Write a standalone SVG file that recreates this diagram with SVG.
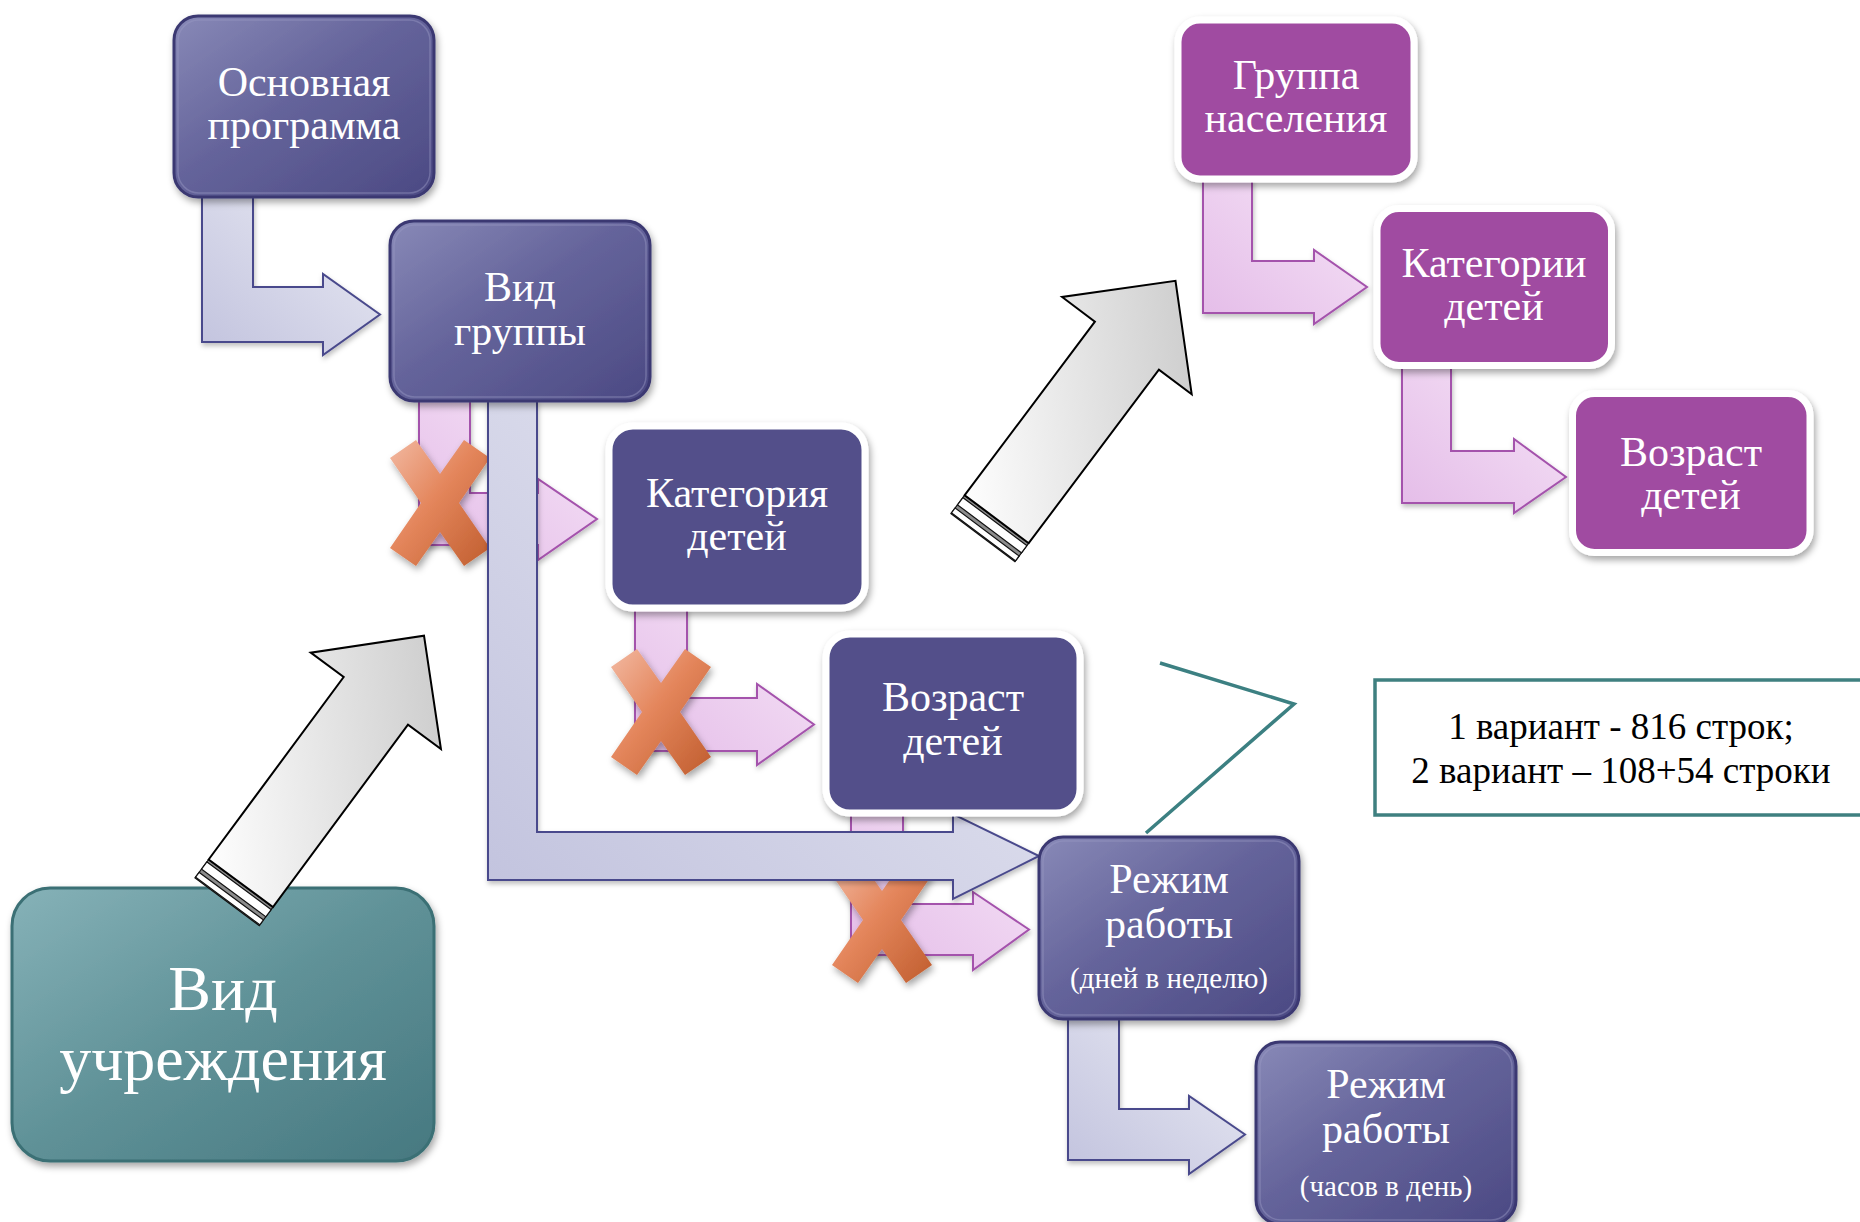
<svg xmlns="http://www.w3.org/2000/svg" width="1860" height="1222" viewBox="0 0 1860 1222">
<defs>
<style>
.t{font-family:"Liberation Serif","Times New Roman",serif;fill:#fff;text-anchor:middle}
.big{font-size:42px}
.small{font-size:29px}
.huge{font-size:64px}
.note{font-family:"Liberation Serif","Times New Roman",serif;font-size:37px;fill:#000;text-anchor:middle}
.lav{fill:url(#gLav);stroke:#4a4a8c;stroke-width:2;filter:url(#shs)}
.pink{fill:url(#gPink);stroke:#a452ac;stroke-width:2;filter:url(#shs)}
.xm{fill:url(#gX);filter:url(#sh)}
.dark{fill:url(#gDark);stroke:#3b3972;stroke-width:3;filter:url(#sh)}
.inner{fill:none;stroke:#9a9ac4;stroke-opacity:0.45;stroke-width:1.5}
.flat{fill:#52508a;stroke:#fff;stroke-width:7;filter:url(#sh)}
.mag{fill:#a04ca1;stroke:#fff;stroke-width:7;filter:url(#sh)}
.teal{fill:url(#gTeal);stroke:#3b6f74;stroke-width:3;filter:url(#sh)}
.gray{fill:url(#gGray);stroke:#000;stroke-width:2;stroke-linejoin:miter}
.cap{stroke:#111;stroke-width:1.2}
</style>
<linearGradient id="gDark" x1="0" y1="0" x2="1" y2="1">
<stop offset="0" stop-color="#8889b7"/>
<stop offset="0.45" stop-color="#65649b"/>
<stop offset="1" stop-color="#4b4983"/>
</linearGradient>
<linearGradient id="gTeal" x1="0" y1="0" x2="1" y2="1">
<stop offset="0" stop-color="#86b2b8"/>
<stop offset="0.5" stop-color="#5f9197"/>
<stop offset="1" stop-color="#467880"/>
</linearGradient>
<linearGradient id="gLav" x1="0" y1="1" x2="1" y2="0">
<stop offset="0" stop-color="#c2c3de"/>
<stop offset="1" stop-color="#eaebf4"/>
</linearGradient>
<linearGradient id="gPink" x1="0" y1="1" x2="1" y2="0">
<stop offset="0" stop-color="#e4bce8"/>
<stop offset="1" stop-color="#f6e4f7"/>
</linearGradient>
<linearGradient id="gX" x1="0" y1="0" x2="1" y2="1">
<stop offset="0" stop-color="#f2b9a2"/>
<stop offset="0.45" stop-color="#e4865c"/>
<stop offset="1" stop-color="#c05d2e"/>
</linearGradient>
<linearGradient id="gGray" x1="0" y1="0.2" x2="1" y2="0.8">
<stop offset="0" stop-color="#ffffff"/>
<stop offset="1" stop-color="#c9c9c9"/>
</linearGradient>
<filter id="sh" x="-20%" y="-20%" width="140%" height="150%">
<feDropShadow dx="2" dy="4" stdDeviation="3.5" flood-color="#000" flood-opacity="0.35"/>
</filter>
<filter id="shs" x="-10%" y="-10%" width="130%" height="130%">
<feDropShadow dx="1" dy="3" stdDeviation="2.5" flood-color="#000" flood-opacity="0.25"/>
</filter>
<path id="xshape" d="M-24,-63 L0,-29 L24,-63 L50,-45 L19,0 L50,45 L24,63 L0,29 L-24,63 L-50,45 L-19,0 L-50,-45 Z"/>
</defs>
<rect width="1860" height="1222" fill="#fff"/>

<g id="connectors">
<path id="c-osn-vid" class="lav" d="M202,195 H253 V287 H323 V274 L380,314.5 L323,355 V342 H202 Z"/>
<path id="c-rezh1-rezh2" class="lav" d="M1068,1015 H1119 V1109 H1189 V1096 L1245,1134.5 L1189,1174 V1160 H1068 Z"/>
<path id="c-vid-kat" class="pink" d="M419,401 H470 V493 H538 V479 L597,519 L538,560 V545 H419 Z"/>
<path id="c-kat-voz" class="pink" d="M635,609 H687 V698 H757 V684 L814,724.5 L757,765 V751 H635 Z"/>
<path id="c-voz-rezh" class="pink" d="M851,812 H903 V904 H973 V892 L1029,929.5 L973,970 V955 H851 Z"/>
<path id="c-grp-kat2" class="pink" d="M1203,180 H1252 V261 H1314 V250 L1367,287 L1314,324 V313 H1203 Z"/>
<path id="c-kat2-voz2" class="pink" d="M1402,368 H1451 V451 H1514 V439 L1566,477 L1514,513 V503 H1402 Z"/>
<g id="crosses">
<use href="#xshape" class="xm" transform="translate(440,503)"/>
<use href="#xshape" class="xm" transform="translate(661,712)"/>
<use href="#xshape" class="xm" transform="translate(882,920)"/>
</g>
<path id="c-vid-rezh" class="lav" d="M488,401 H537 V832 H953 V814 L1039,856 L953,899 V880 H488 Z"/>
</g>

<g id="node-osn">
<rect class="dark" x="174" y="16" width="260" height="181" rx="24"/>
<rect class="inner" x="178" y="20" width="252" height="173" rx="21"/>
<text class="t big" x="304" y="96">Основная</text>
<text class="t big" x="304" y="139">программа</text>
</g>
<g id="node-vid-gruppy">
<rect class="dark" x="390" y="221" width="260" height="180" rx="24"/>
<rect class="inner" x="394" y="225" width="252" height="172" rx="21"/>
<text class="t big" x="520" y="301">Вид</text>
<text class="t big" x="520" y="345">группы</text>
</g>
<g id="node-kat">
<rect class="flat" x="609" y="426" width="256" height="182" rx="24"/>
<text class="t big" x="737" y="507">Категория</text>
<text class="t big" x="737" y="550">детей</text>
</g>
<g id="node-voz">
<rect class="flat" x="826" y="634" width="254" height="179" rx="24"/>
<text class="t big" x="953" y="711">Возраст</text>
<text class="t big" x="953" y="755">детей</text>
</g>
<g id="node-rezh-dni">
<rect class="dark" x="1039" y="837" width="260" height="182" rx="24"/>
<rect class="inner" x="1043" y="841" width="252" height="174" rx="21"/>
<text class="t big" x="1169" y="893">Режим</text>
<text class="t big" x="1169" y="938">работы</text>
<text class="t small" x="1169" y="988">(дней в неделю)</text>
</g>
<g id="node-rezh-chasy">
<rect class="dark" x="1256" y="1042" width="260" height="182" rx="24"/>
<rect class="inner" x="1260" y="1046" width="252" height="174" rx="21"/>
<text class="t big" x="1386" y="1098">Режим</text>
<text class="t big" x="1386" y="1143">работы</text>
<text class="t small" x="1386" y="1196">(часов в день)</text>
</g>
<g id="node-gruppa-nas">
<rect class="mag" x="1178" y="20" width="236" height="159" rx="22"/>
<text class="t big" x="1296" y="89">Группа</text>
<text class="t big" x="1296" y="132">населения</text>
</g>
<g id="node-kat2">
<rect class="mag" x="1377" y="208.5" width="234.5" height="157" rx="22"/>
<text class="t big" x="1494" y="277">Категории</text>
<text class="t big" x="1494" y="320">детей</text>
</g>
<g id="node-voz2">
<rect class="mag" x="1572.5" y="393.5" width="237.5" height="159" rx="22"/>
<text class="t big" x="1691" y="466">Возраст</text>
<text class="t big" x="1691" y="509">детей</text>
</g>
<g id="node-vid-uchr">
<rect class="teal" x="12" y="888" width="422" height="273" rx="38"/>
<text class="t huge" x="223" y="1010">Вид</text>
<text class="t huge" x="223" y="1080">учреждения</text>
</g>

<g id="connectors-big">
<g id="arrow-up-right" transform="translate(996.7,519.2) rotate(-53.13)">
<rect class="cap" x="-23" y="-40" width="23" height="80" fill="#8c8c8c"/>
<rect class="cap" x="-12" y="-40" width="9" height="80" fill="#fff"/>
<rect class="cap" x="-22" y="-40" width="6" height="80" fill="#fff"/>
<path class="gray" d="M0,-40 H217 V-81 L298,0 L217,81 V40 H0 Z"/>
</g>
<g id="arrow-up-left" transform="translate(240.8,883.3) rotate(-53.5)">
<rect class="cap" x="-23" y="-40" width="23" height="80" fill="#8c8c8c"/>
<rect class="cap" x="-12" y="-40" width="9" height="80" fill="#fff"/>
<rect class="cap" x="-22" y="-40" width="6" height="80" fill="#fff"/>
<path class="gray" d="M0,-40 H227 V-81 L308,0 L227,81 V40 H0 Z"/>
</g>
</g>

<g id="note">
<polyline points="1160,663 1294,704 1146,833" fill="none" stroke="#3c8082" stroke-width="3.5"/>
<rect x="1375" y="680" width="495" height="135" fill="#fff" stroke="#3f8080" stroke-width="3.5"/>
<text class="note" x="1621" y="739">1 вариант - 816 строк;</text>
<text class="note" x="1621" y="783">2 вариант – 108+54 строки</text>
</g>
</svg>
